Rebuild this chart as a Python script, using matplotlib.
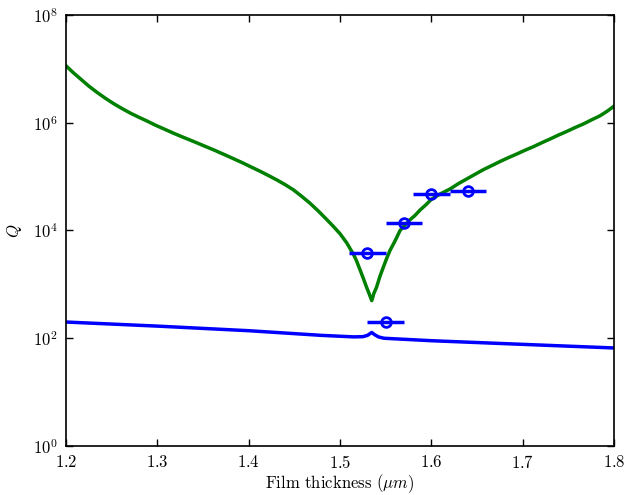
import matplotlib
matplotlib.use("Agg")
import matplotlib.pyplot as plt

plt.rcParams['font.family'] = 'serif'
plt.rcParams['font.serif'] = ['cmr10']
plt.rcParams['mathtext.fontset'] = 'cm'
plt.rcParams['axes.formatter.use_mathtext'] = True
plt.rcParams['axes.unicode_minus'] = False

# Green curve (thickness in um, Q)
green_x = [1.200, 1.208, 1.2161, 1.225, 1.2343, 1.2435, 1.2526, 1.2617, 1.2708, 1.280,
           1.289, 1.298, 1.3073, 1.3165, 1.3255, 1.335, 1.3438, 1.353, 1.362, 1.376,
           1.385, 1.394, 1.403, 1.4124, 1.4215, 1.4307, 1.440, 1.4489, 1.458, 1.4672,
           1.4763, 1.4854, 1.4927, 1.500, 1.5073, 1.5146, 1.518, 1.5219, 1.5255, 1.529,
           1.532, 1.5347, 1.537, 1.540, 1.5435, 1.5474, 1.551, 1.5547, 1.560, 1.5657,
           1.571, 1.5766, 1.582, 1.5876, 1.594, 1.600, 1.610, 1.6204, 1.6295, 1.6387,
           1.648, 1.657, 1.666, 1.6752, 1.684, 1.6935, 1.7025, 1.7117, 1.721, 1.730,
           1.739, 1.7482, 1.757, 1.7664, 1.7755, 1.7847, 1.7925, 1.800]
green_q = [1.14e7, 8.5e6, 6.46e6, 4.79e6, 3.63e6, 2.82e6, 2.24e6, 1.82e6, 1.50e6, 1.26e6,
           1.07e6, 9.0e5, 7.67e5, 6.53e5, 5.62e5, 4.84e5, 4.2e5, 3.61e5, 3.12e5, 2.45e5,
           2.09e5, 1.78e5, 1.50e5, 1.26e5, 1.05e5, 8.7e4, 7.08e4, 5.69e4, 4.31e4, 3.2e4,
           2.29e4, 1.6e4, 1.19e4, 8.7e3, 5.9e3, 3.63e3, 2.75e3, 1.86e3, 1.29e3, 8.9e2,
           6.61e2, 5.0e2, 6.76e2, 8.9e2, 1.38e3, 2.09e3, 3.02e3, 4.27e3, 6.3e3, 1.0e4,
           1.26e4, 1.58e4, 1.9e4, 2.4e4, 3.0e4, 3.8e4, 4.8e4, 5.89e4, 7.4e4, 9.06e4,
           1.11e5, 1.35e5, 1.6e5, 1.91e5, 2.24e5, 2.63e5, 3.09e5, 3.6e5, 4.27e5, 5.0e5,
           5.9e5, 6.9e5, 8.1e5, 9.5e5, 1.135e6, 1.35e6, 1.64e6, 2.04e6]

# Blue curve
blue_x = [1.200, 1.300, 1.400, 1.480, 1.515, 1.525, 1.530, 1.5347, 1.538, 1.542,
          1.548, 1.600, 1.700, 1.800]
blue_q = [200, 168, 138, 113, 106, 107, 113, 128, 116, 106,
          100, 90, 77, 66]

# Measured points with horizontal error bars
meas_x = [1.530, 1.550, 1.570, 1.600, 1.640]
meas_q = [3800, 200, 13600, 48000, 53000]
meas_xerr = [0.02, 0.02, 0.02, 0.02, 0.02]

fig = plt.figure(figsize=(6.26, 4.95), dpi=100)
ax = fig.add_axes([0.1054, 0.099, 0.8756, 0.8707])

ax.plot(green_x, green_q, color='green', lw=2.5)
ax.plot(blue_x, blue_q, color='blue', lw=2.5)
ax.errorbar(meas_x, meas_q, xerr=meas_xerr, fmt='o', color='blue',
            mfc='none', mec='blue', mew=2, ms=7, elinewidth=2.5, capsize=0)

ax.set_yscale('log')
ax.set_xlim(1.2, 1.8)
ax.set_ylim(1, 1e8)
ax.set_yticks([1, 1e2, 1e4, 1e6, 1e8])
ax.set_xticks([1.2, 1.3, 1.4, 1.5, 1.6, 1.7, 1.8])
ax.minorticks_off()
ax.tick_params(direction='in', top=True, right=True, length=5, width=1,
               labelsize=12, pad=6)
for s in ax.spines.values():
    s.set_linewidth(1.2)

ax.set_xlabel(r'Film thickness ($\mu m$)', fontsize=12, labelpad=1)
ax.set_ylabel(r'$Q$', fontsize=12, labelpad=6)

fig.savefig('out.png', dpi=100)
